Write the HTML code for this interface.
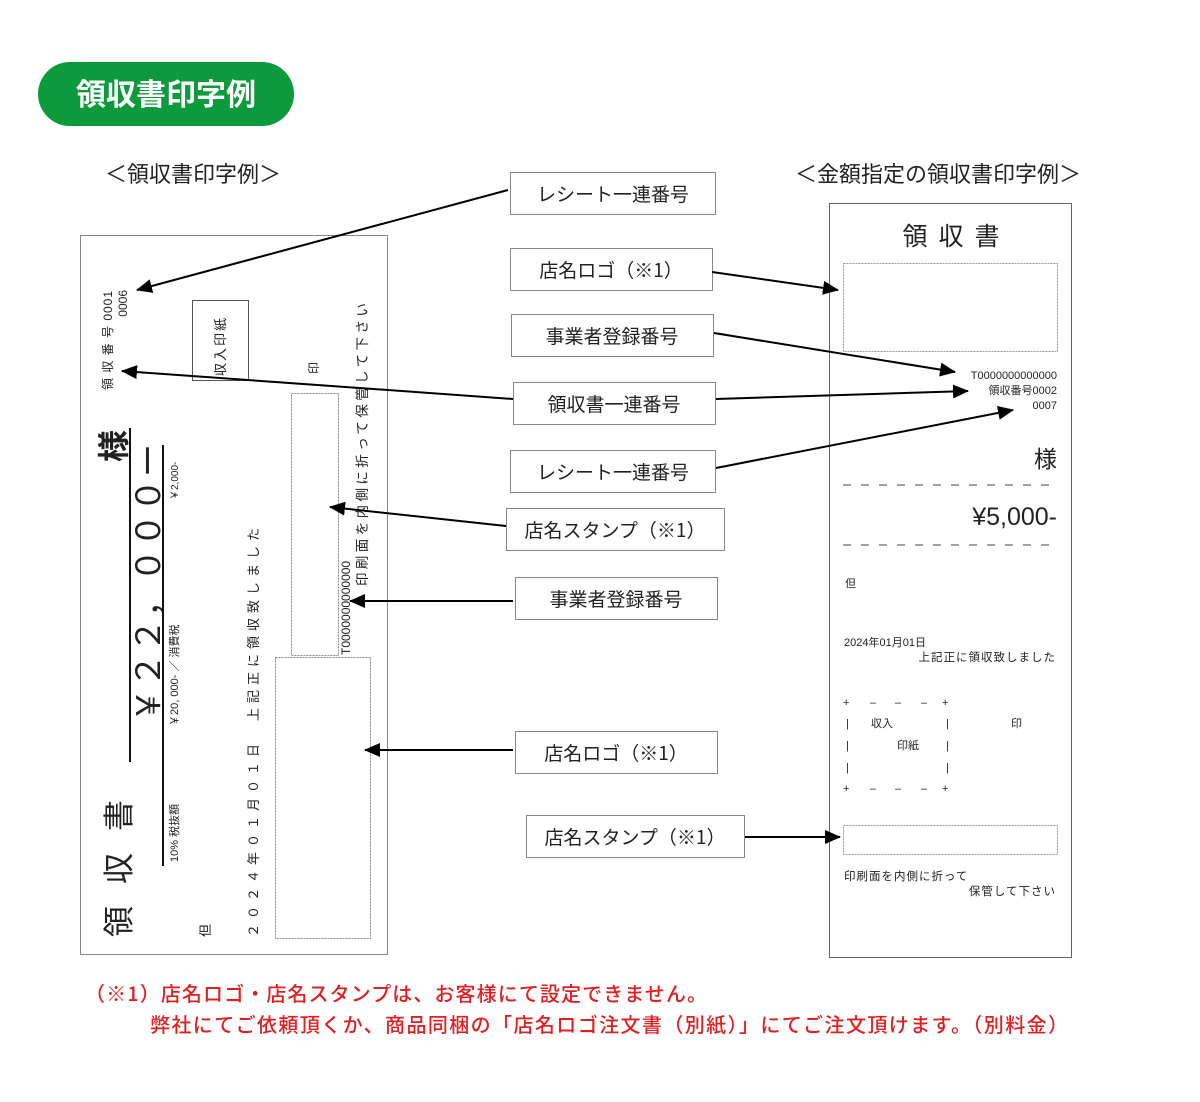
<!DOCTYPE html>
<html><head><meta charset="utf-8"><style>
html,body{margin:0;padding:0;background:#fff;}
svg{display:block;font-family:"Liberation Sans","Noto Sans CJK JP",sans-serif;}
.cjk{font-family:"Noto Sans CJK JP",sans-serif;}
</style></head><body>
<svg width="1200" height="1102" viewBox="0 0 1200 1102" xmlns="http://www.w3.org/2000/svg">
<defs>
<marker id="ah2" markerWidth="16" markerHeight="14" refX="15" refY="7" orient="auto" markerUnits="userSpaceOnUse" viewBox="0 0 16 14">
<path d="M0,0 L16,7 L0,14 z" fill="#000"/></marker>
</defs>

<rect x="38" y="62" width="256" height="64" rx="32" fill="#0d9a3d"/>
<text x="166" y="105" font-size="30" font-weight="bold" fill="#fff" text-anchor="middle">領収書印字例</text>

<text x="105" y="182" font-size="22" fill="#222" class="cjk">＜領収書印字例＞</text>
<text x="795" y="182" font-size="22" fill="#222" class="cjk">＜金額指定の領収書印字例＞</text>

<!-- left receipt -->
<rect x="80.5" y="235.5" width="307" height="719" fill="none" stroke="#888" stroke-width="1"/>
<g fill="#222">
<text transform="translate(112,390) rotate(-90)" font-size="12" letter-spacing="1">領 収 番 号 0001</text>
<text transform="translate(127,290) rotate(-90)" font-size="12" text-anchor="end">0006</text>
<text transform="translate(125,462) rotate(-90)" font-size="32" font-weight="bold">様</text>
<text transform="translate(160,722) rotate(-90)" font-size="33" letter-spacing="2">￥２２，０００ー</text>
<text transform="translate(178,500) rotate(-90)" font-size="10">￥2,000-</text>
<text transform="translate(178,726) rotate(-90)" font-size="11">￥20, 000-  ／  消費税</text>
<text transform="translate(178,862) rotate(-90)" font-size="11">10% 税抜額</text>
<text transform="translate(130,937) rotate(-90)" font-size="31" letter-spacing="22">領収書</text>
<text transform="translate(210,937) rotate(-90)" font-size="13">但</text>
<text transform="translate(258,937) rotate(-90)" font-size="13" letter-spacing="5">２０２４年０１月０１日　上記正に領収致しました</text>
<text transform="translate(225,376) rotate(-90)" font-size="13" letter-spacing="2">収入印紙</text>
<text transform="translate(318,374) rotate(-90)" font-size="12">印</text>
<text transform="translate(350,655) rotate(-90)" font-size="12">T0000000000000</text>
<text transform="translate(367,586) rotate(-90)" font-size="13.5" letter-spacing="3.4">印刷面を内側に折って保管して下さい</text>
</g>
<line x1="130" y1="428" x2="130" y2="762" stroke="#111" stroke-width="2"/>
<line x1="163" y1="445" x2="163" y2="866" stroke="#111" stroke-width="2"/>
<rect x="192.5" y="300.5" width="56" height="80" fill="none" stroke="#555"/>
<rect x="291.5" y="393.5" width="47" height="262" fill="none" stroke="#888" stroke-dasharray="2,1"/>
<rect x="275.5" y="657.5" width="95" height="281" fill="none" stroke="#888" stroke-dasharray="2,1"/>

<!-- right receipt -->
<rect x="829.5" y="203.5" width="242" height="754" fill="none" stroke="#666"/>
<g fill="#222">
<text x="952" y="245" font-size="25" text-anchor="middle" letter-spacing="2">領 収 書</text>
<text x="1057" y="379" font-size="11" text-anchor="end">T0000000000000</text>
<text x="1057" y="394" font-size="11" text-anchor="end">領収番号0002</text>
<text x="1057" y="409" font-size="11" text-anchor="end">0007</text>
<text x="1057" y="467" font-size="23" text-anchor="end">様</text>
<text x="1057" y="525" font-size="25" text-anchor="end">¥5,000-</text>
<text x="845" y="587" font-size="11">但</text>
<text x="844" y="646" font-size="11">2024年01月01日</text>
<text x="1056" y="661" font-size="11.5" text-anchor="end" letter-spacing="1">上記正に領収致しました</text>
<text x="843" y="706" font-size="11">+</text><text x="870" y="706" font-size="11">–</text><text x="895" y="706" font-size="11">–</text><text x="921" y="706" font-size="11">–</text><text x="942" y="706" font-size="11">+</text>
<text x="843" y="792" font-size="11">+</text><text x="870" y="792" font-size="11">–</text><text x="895" y="792" font-size="11">–</text><text x="921" y="792" font-size="11">–</text><text x="942" y="792" font-size="11">+</text>
<text x="846" y="727" font-size="11">|</text><text x="946" y="727" font-size="11">|</text>
<text x="846" y="749" font-size="11">|</text><text x="946" y="749" font-size="11">|</text>
<text x="846" y="771" font-size="11">|</text><text x="946" y="771" font-size="11">|</text>
<text x="871" y="727" font-size="11">収入</text>
<text x="897" y="749" font-size="11">印紙</text>
<text x="1011" y="727" font-size="11">印</text>
<text x="844" y="880" font-size="11.5" letter-spacing="1">印刷面を内側に折って</text>
<text x="1056" y="895" font-size="11.5" text-anchor="end" letter-spacing="1">保管して下さい</text>
</g>
<rect x="843.5" y="263.5" width="214" height="88" fill="none" stroke="#999" stroke-dasharray="2,1"/>
<line x1="843" y1="485" x2="1057" y2="485" stroke="#444" stroke-dasharray="8,10"/>
<line x1="843" y1="545" x2="1057" y2="545" stroke="#444" stroke-dasharray="8,10"/>
<rect x="843.5" y="825.5" width="214" height="29" fill="none" stroke="#999" stroke-dasharray="2,1"/>

<g fill="#fff" stroke="#888" stroke-width="1">
<rect x="510.5" y="172.5" width="205" height="42"/>
<rect x="510.5" y="248.5" width="202" height="42"/>
<rect x="511.5" y="314.5" width="202" height="42"/>
<rect x="513.5" y="382.5" width="202" height="42"/>
<rect x="510.5" y="450.5" width="205" height="42"/>
<rect x="506.5" y="508.5" width="218" height="42"/>
<rect x="515.5" y="577.5" width="202" height="42"/>
<rect x="515.5" y="731.5" width="202" height="42"/>
<rect x="526.5" y="815.5" width="218" height="42"/>
</g>
<g fill="#222" font-size="19" text-anchor="middle" class="cjk">
<text x="613" y="201">レシート一連番号</text>
<text x="611" y="277">店名ロゴ（※1）</text>
<text x="612" y="343">事業者登録番号</text>
<text x="614" y="411">領収書一連番号</text>
<text x="613" y="479">レシート一連番号</text>
<text x="615" y="537">店名スタンプ（※1）</text>
<text x="616" y="606">事業者登録番号</text>
<text x="616" y="760">店名ロゴ（※1）</text>
<text x="635" y="844">店名スタンプ（※1）</text>
</g>

<g stroke="#000" stroke-width="2" fill="none">
<line x1="508" y1="190" x2="137" y2="290" marker-end="url(#ah2)"/>
<line x1="712" y1="272" x2="838" y2="290" marker-end="url(#ah2)"/>
<line x1="714" y1="333" x2="955" y2="372" marker-end="url(#ah2)"/>
<line x1="513" y1="399" x2="122" y2="371" marker-end="url(#ah2)"/>
<line x1="716" y1="399" x2="968" y2="391" marker-end="url(#ah2)"/>
<line x1="716" y1="468" x2="1013" y2="410" marker-end="url(#ah2)"/>
<line x1="506" y1="526" x2="330" y2="507" marker-end="url(#ah2)"/>
<line x1="513" y1="601" x2="350" y2="601" marker-end="url(#ah2)"/>
<line x1="513" y1="750" x2="365" y2="750" marker-end="url(#ah2)"/>
<line x1="745" y1="837" x2="840" y2="837" marker-end="url(#ah2)"/>
</g>

<g fill="#e02020" font-size="20" font-weight="500" class="cjk">
<text x="85" y="1001" textLength="622">（※1）店名ロゴ・店名スタンプは、お客様にて設定できません。</text>
<text x="150" y="1032" textLength="918">弊社にてご依頼頂くか、商品同梱の「店名ロゴ注文書（別紙）」にてご注文頂けます。（別料金）</text>
</g>
</svg>
</body></html>
